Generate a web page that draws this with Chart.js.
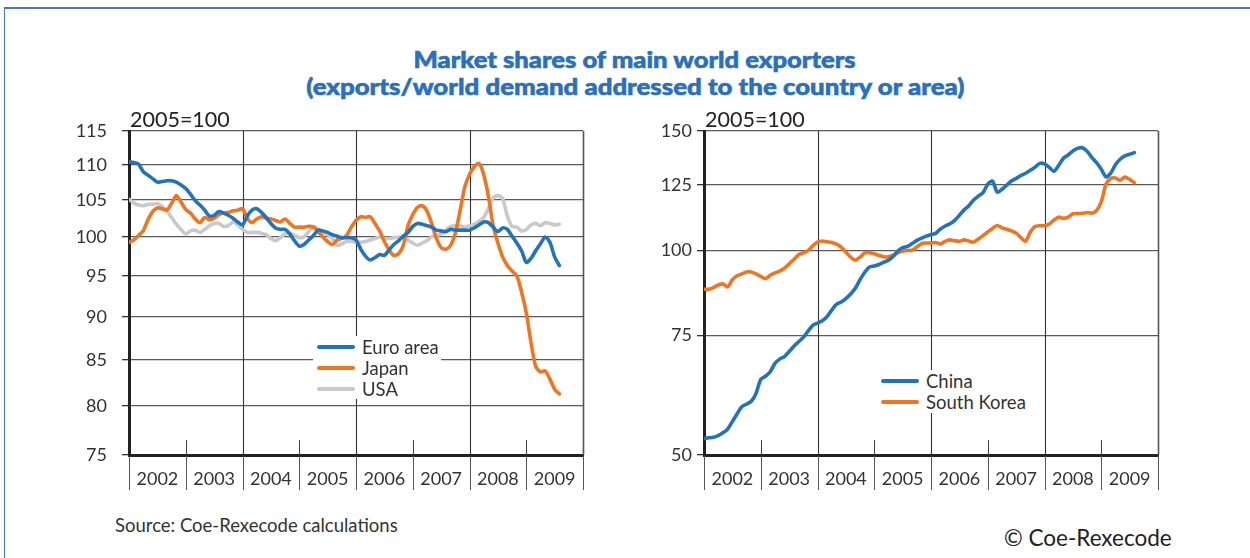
<!DOCTYPE html>
<html>
<head>
<meta charset="utf-8">
<script src="https://cdn.jsdelivr.net/npm/chart.js@4.4.0/dist/chart.umd.min.js"></script>
<style>
html,body{margin:0;padding:0;background:#fff;width:1250px;height:558px;overflow:hidden;position:relative;font-family:Lato,sans-serif;}
#frame{position:absolute;left:4px;top:7px;width:1300px;height:600px;border-top:2px solid #4a78c0;border-left:1px solid #4a78c0;}
.title{position:absolute;left:10px;width:1250px;text-align:center;color:#2b70b9;font:900 23px Lato;line-height:24px;white-space:nowrap;-webkit-text-stroke:0.6px #2b70b9;}
.title span{display:inline-block;transform-origin:center;}
#t1{top:47px;}
#t2{top:74px;}
canvas{position:absolute;top:100px;}
#cL{left:60px;}
#cR{left:640px;}
.legend{position:absolute;background:#fff;}
.lrow{display:flex;align-items:center;font:18.5px Lato;color:#333;white-space:nowrap;}
.sw{display:inline-block;width:38px;height:4px;border-radius:2px;margin:0 7px 0 4px;}
#legL{left:313px;top:336px;width:128px;}
#legL .lrow{height:21px;}
#legR{left:877px;top:370px;width:152px;}
#legR .lrow{height:21.5px;}
#src{position:absolute;left:115px;top:514px;font:18.5px Lato;color:#333;white-space:nowrap;}
#copy{position:absolute;left:1004px;top:524px;font:22.5px Lato;color:#222;white-space:nowrap;}
</style>
</head>
<body>
<div id="frame"></div>
<div class="title" id="t1"><span>Market shares of main world exporters</span></div>
<div class="title" id="t2"><span>(exports/world demand addressed to the country or area)</span></div>
<canvas id="cL" width="540" height="400"></canvas>
<canvas id="cR" width="540" height="400"></canvas>
<div class="legend" id="legL"></div>
<div class="legend" id="legR"></div>
<div id="src">Source: Coe-Rexecode calculations</div>
<div id="copy">© Coe-Rexecode</div>
<script>
// ---- data (monthly, starting January 2002) ----
const years = ['2002','2003','2004','2005','2006','2007','2008','2009'];
const startYear = 2002;
const endYear = 2010;
const baseLabel = '2005=100';
const leftTicks = [75,80,85,90,95,100,105,110,115];
const rightTicks = [50,75,100,125,150];

const euroArea = [110.4,110.3,110.1,109.0,108.5,108.0,107.5,107.6,107.7,107.7,107.5,107.1,106.6,105.8,104.9,104.3,103.6,102.8,102.9,103.4,103.2,102.9,102.5,102.0,101.6,102.8,103.6,103.8,103.3,102.6,101.8,101.2,101.0,101.0,100.4,99.5,98.8,99.0,99.6,100.2,100.9,100.8,100.6,100.3,100.1,
99.9,99.9,99.9,99.6,98.4,97.5,97.0,97.3,97.7,97.6,98.3,99.0,99.5,100.1,100.6,101.4,101.8,101.7,101.5,101.3,100.9,100.8,100.7,101.0,100.9,100.9,100.9,100.9,101.2,101.6,102.0,101.9,101.3,100.7,101.2,101.0,100.1,99.2,98.2,96.7,97.2,98.2,99.1,100.0,99.3,97.4,96.3];

const japan = [99.3,99.6,100.2,100.8,102.3,103.4,103.9,103.8,103.6,104.5,105.6,104.7,103.7,103.2,102.4,101.9,102.6,102.3,102.5,103.0,103.2,103.3,103.5,103.6,103.8,102.5,101.9,102.4,102.7,102.5,102.4,102.2,102.0,102.4,101.8,101.3,101.3,101.3,101.4,101.3,100.7,100.0,99.4,99.0,99.6,
99.8,100.2,101.3,102.2,102.7,102.6,102.7,101.8,100.8,99.4,98.3,97.6,97.8,98.9,101.5,103.0,104.0,104.2,103.5,101.8,99.8,98.6,98.4,98.9,100.5,103.5,106.8,108.6,109.7,110.2,108.6,105.5,101.5,99.2,97.4,96.3,95.6,95.0,93.0,90.5,87.0,84.3,83.7,83.8,82.9,81.8,81.3];

const usa = [105.1,104.6,104.3,104.2,104.4,104.4,104.5,104.1,103.5,102.6,101.7,101.0,100.4,100.8,100.9,100.6,101.0,101.5,101.8,101.8,101.4,101.5,102.0,101.6,101.0,100.6,100.6,100.6,100.5,100.3,99.8,99.5,99.9,100.4,100.5,100.2,99.9,100.0,100.7,101.4,101.0,100.6,100.3,99.8,98.9,
99.1,99.4,99.4,99.3,99.3,99.4,99.6,99.8,100.0,99.8,99.8,99.9,100.0,99.9,99.6,99.2,98.9,99.2,99.5,100.0,100.2,100.4,100.9,101.4,101.5,101.5,101.3,101.5,101.7,102.1,102.6,103.8,105.3,105.6,105.2,102.8,101.4,101.3,100.8,101.0,101.6,101.8,101.5,101.9,101.8,101.6,101.7];

const china = [52.9,53.0,53.1,53.4,53.9,54.6,56.0,57.5,58.9,59.4,60.0,61.6,64.6,65.3,66.3,68.2,69.2,69.8,71.0,72.3,73.4,74.5,76.1,77.6,78.2,78.8,79.9,81.7,83.3,84.0,85.0,86.3,88.0,90.6,92.9,94.6,94.9,95.4,96.1,96.8,98.0,99.8,101.0,101.4,
102.4,103.5,104.3,105.0,105.6,106.0,107.6,108.7,109.5,110.8,112.7,114.8,116.4,118.7,120.3,121.7,125.3,126.6,121.9,123.1,124.8,126.6,127.7,129.0,130.0,131.3,132.7,134.4,134.2,132.6,130.8,133.5,136.8,138.3,140.2,141.4,141.7,140.0,137.2,134.7,131.8,128.4,130.0,133.8,136.3,137.9,138.6,139.4];

const southKorea = [87.7,87.7,88.2,89.0,89.3,88.4,90.6,91.8,92.4,93.0,93.0,92.4,91.6,90.9,92.0,92.7,93.3,94.2,95.6,97.0,98.6,99.2,100.0,101.6,102.9,103.3,103.0,102.8,102.2,101.2,99.5,97.8,96.8,97.8,99.2,99.3,98.9,98.4,97.9,97.9,98.5,99.3,99.8,100.0,
100.1,101.2,102.4,102.6,102.6,102.8,102.3,103.2,103.7,103.4,103.2,103.7,103.3,102.9,104.0,105.2,106.5,107.8,108.9,108.0,107.5,106.9,106.1,104.5,103.2,106.5,108.5,108.8,108.8,109.4,110.9,112.0,111.6,112.0,113.3,113.4,113.5,113.8,113.5,114.5,118.0,125.2,127.7,127.9,126.9,128.3,127.3,125.9];

const leftNames = ['Euro area','Japan','USA'];
const rightNames = ['China','South Korea'];
const colors = {blue:'#2473b9', orange:'#ee7623', gray:'#c9c9c9'};

// ---- helpers ----
function toPoints(vals){ return vals.map((v,i)=>({x:startYear + i/12, y:v})); }

const decor = {
  id:'decor',
  beforeDatasetsDraw(chart){
    const {ctx, chartArea:a, scales:{x}} = chart;
    ctx.save();
    for(let yr=startYear; yr<=endYear; yr++){
      const px = Math.round(x.getPixelForValue(yr)) + 0.5;
      ctx.strokeStyle = '#555'; ctx.lineWidth = 1;
      ctx.beginPath(); ctx.moveTo(px, a.bottom+1); ctx.lineTo(px, a.bottom+35); ctx.stroke();
      const k = yr - startYear;
      if(k === 0) continue;
      ctx.beginPath();
      if(yr === endYear){
        ctx.strokeStyle = '#555'; ctx.lineWidth = 1.6;
        ctx.moveTo(px, a.top); ctx.lineTo(px, a.bottom);
      } else if(k % 2 === 0){
        ctx.strokeStyle = '#333'; ctx.lineWidth = 1.1;
        ctx.moveTo(px, a.top); ctx.lineTo(px, a.bottom);
      } else {
        ctx.strokeStyle = '#444'; ctx.lineWidth = 1;
        ctx.moveTo(px, a.bottom-15); ctx.lineTo(px, a.bottom);
      }
      ctx.stroke();
    }
    ctx.restore();
  },
  afterDraw(chart){
    const {ctx, chartArea:a} = chart;
    ctx.save();
    ctx.font = '21.5px Lato';
    ctx.fillStyle = '#222';
    ctx.textBaseline = 'alphabetic';
    ctx.fillText(baseLabel, a.left+1, a.top-4);
    ctx.restore();
  }
};

function buildChart(id, series, yTicks, yMin, yMax, yWidth, padRight, yPad){
  return new Chart(document.getElementById(id), {
    type:'line',
    data:{datasets: series.map(s=>({
      label:s.label, data:toPoints(s.values), borderColor:s.color, backgroundColor:s.color,
      borderWidth:3.6, pointRadius:0, tension:0.25, borderCapStyle:'round', borderJoinStyle:'round', fill:false
    }))},
    options:{
      responsive:false, animation:false, devicePixelRatio:1,
      layout:{padding:{top:31, right:padRight, left:0, bottom:0}},
      plugins:{legend:{display:false}, tooltip:{enabled:false}},
      scales:{
        x:{
          type:'linear', min:startYear, max:endYear,
          afterBuildTicks:s=>{ s.ticks = years.map((y,i)=>({value:startYear+i+0.5})); },
          afterFit:s=>{ s.height = 45; },
          grid:{display:false, drawTicks:false},
          border:{display:true, color:'#222', width:3},
          ticks:{padding:13, color:'#333', font:{family:'Lato', size:18}, maxRotation:0, autoSkip:false,
                 callback:(v,i)=>years[i]}
        },
        y:{
          type:'logarithmic', min:yMin, max:yMax,
          afterBuildTicks:s=>{ s.ticks = yTicks.map(v=>({value:v})); },
          afterFit:s=>{ s.width = yWidth; },
          grid:{color:'#5a5a5a', lineWidth:1.3, tickLength:7, tickColor:'#333', drawTicks:true},
          border:{display:true, color:'#222', width:3},
          ticks:{padding:yPad, color:'#333', font:{family:'Lato', size:18}, autoSkip:false, callback:v=>String(v)}
        }
      }
    },
    plugins:[decor]
  });
}

function buildLegend(chart, el){
  chart.data.datasets.forEach(ds=>{
    const row = document.createElement('div'); row.className = 'lrow';
    const sw = document.createElement('span'); sw.className = 'sw'; sw.style.background = ds.borderColor;
    const tx = document.createElement('span'); tx.textContent = ds.label;
    row.append(sw, tx); el.append(row);
  });
}

const left = buildChart('cL', [
  {label:leftNames[0], values:euroArea, color:colors.blue},
  {label:leftNames[1], values:japan, color:colors.orange},
  {label:leftNames[2], values:usa, color:colors.gray}
], leftTicks, 75, 115, 69, 17, 15);

const right = buildChart('cR', [
  {label:rightNames[0], values:china, color:colors.blue},
  {label:rightNames[1], values:southKorea, color:colors.orange}
], rightTicks, 50, 150, 64, 22, 5);

buildLegend(left, document.getElementById('legL'));
buildLegend(right, document.getElementById('legR'));

// fit title lines to the reference widths
[['t1',442],['t2',658]].forEach(([id,w])=>{
  const sp = document.querySelector('#'+id+' span');
  const cur = sp.getBoundingClientRect().width;
  sp.style.transform = 'scaleX(' + (w/cur).toFixed(3) + ')';
});
</script>
</body>
</html>
